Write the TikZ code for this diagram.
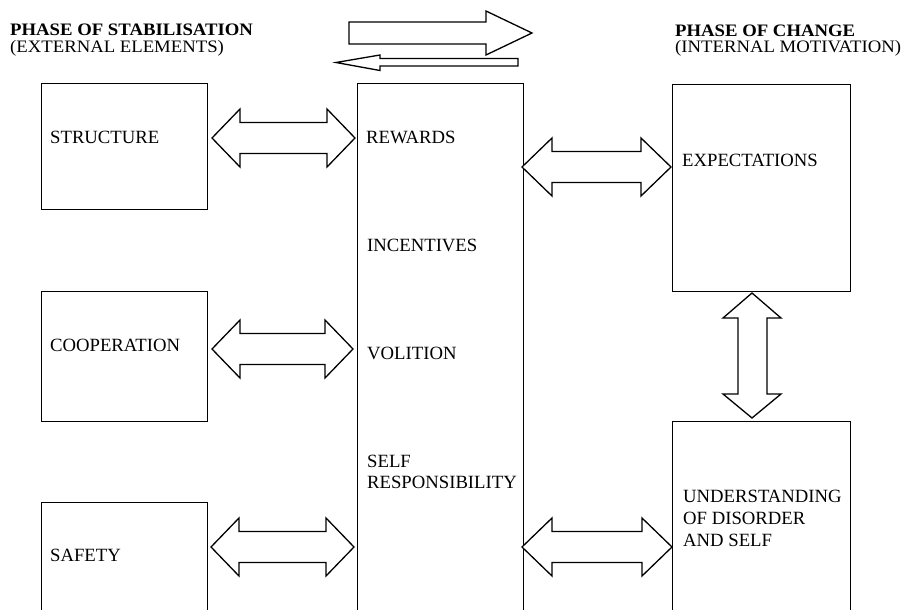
\documentclass[tikz,border=0pt]{standalone}
\usepackage{fontspec}
\setmainfont{Liberation Serif}
\newfontfamily\titlefont[FakeStretch=1.07]{Liberation Serif}
\begin{document}
\begin{tikzpicture}[x=1pt,y=-1pt,
  boxstyle/.style={draw,line width=1.2pt,minimum width=#1,inner sep=0pt,anchor=north west},
  lbl/.style={anchor=base west,inner sep=0pt,font=\fontsize{18.7}{22}\selectfont},
  ttl/.style={anchor=base west,inner sep=0pt,align=left,font=\titlefont\fontsize{17.5}{16.6}\selectfont},
  arr/.style={draw,line width=1.3pt,fill=white,line join=miter}]
\useasboundingbox (0,0) rectangle (906,610);
% boxes
\node[boxstyle=166pt,minimum height=126pt] (structure) at (41,83) {};
\node[boxstyle=166pt,minimum height=130pt] (coop) at (41,291) {};
\node[boxstyle=166pt,minimum height=112pt] (safety) at (41,502) {};
\node[boxstyle=166pt,minimum height=531pt] (mid) at (357,83) {};
\node[boxstyle=178pt,minimum height=207pt] (expect) at (672,84) {};
\node[boxstyle=178pt,minimum height=193pt] (under) at (672,421) {};
% titles (anchored at the baseline of the last line)
\node[ttl] (t1) at (10,52.3) {\textbf{PHASE OF STABILISATION}\\(EXTERNAL ELEMENTS)};
\node[ttl] (t3) at (675,53) {\textbf{PHASE OF CHANGE}\\(INTERNAL MOTIVATION)};
% labels
\node[lbl] (l1) at (50,143) {STRUCTURE};
\node[lbl] (l2) at (50,351) {COOPERATION};
\node[lbl] (l3) at (50,561) {SAFETY};
\node[lbl] (m1) at (366,143) {REWARDS};
\node[lbl] (m2) at (367,251) {INCENTIVES};
\node[lbl] (m3) at (367,359) {VOLITION};
\node[lbl,align=left] (m4) at (367,488) {SELF\\[-1pt]RESPONSIBILITY};
\node[lbl] (r1) at (682,166) {EXPECTATIONS};
\node[lbl,align=left] (r2) at (683,546) {UNDERSTANDING\\OF DISORDER\\AND SELF};
% horizontal double arrows: x1, x2, yc, head length
\newcommand\myharrow[4]{%
 \draw[arr] (#1,#3) -- (#1+#4,#3-29) -- (#1+#4,#3-15.5) -- (#2-#4,#3-15.5) -- (#2-#4,#3-29) -- (#2,#3)
   -- (#2-#4,#3+29) -- (#2-#4,#3+15.5) -- (#1+#4,#3+15.5) -- (#1+#4,#3+29) -- cycle;}
\myharrow{212}{355}{138}{28}
\myharrow{212}{353}{349}{28}
\myharrow{211}{354}{547}{28}
\myharrow{522}{671}{167}{30}
\myharrow{522}{672}{547}{30}
% vertical double arrow
\draw[arr] (752,293) -- (781,318) -- (767,318) -- (767,394) -- (781,394) -- (752,418)
  -- (723,394) -- (738,394) -- (738,318) -- (723,318) -- cycle;
% top arrows
\draw[arr] (349,22) -- (486,22) -- (486,11) -- (532,33) -- (486,55) -- (486,44) -- (349,44) -- cycle;
\draw[arr] (518,58.5) -- (380,58.5) -- (380,55) -- (336,62.5) -- (380,70.5) -- (380,66) -- (518,66) -- cycle;
\end{tikzpicture}
\end{document}
